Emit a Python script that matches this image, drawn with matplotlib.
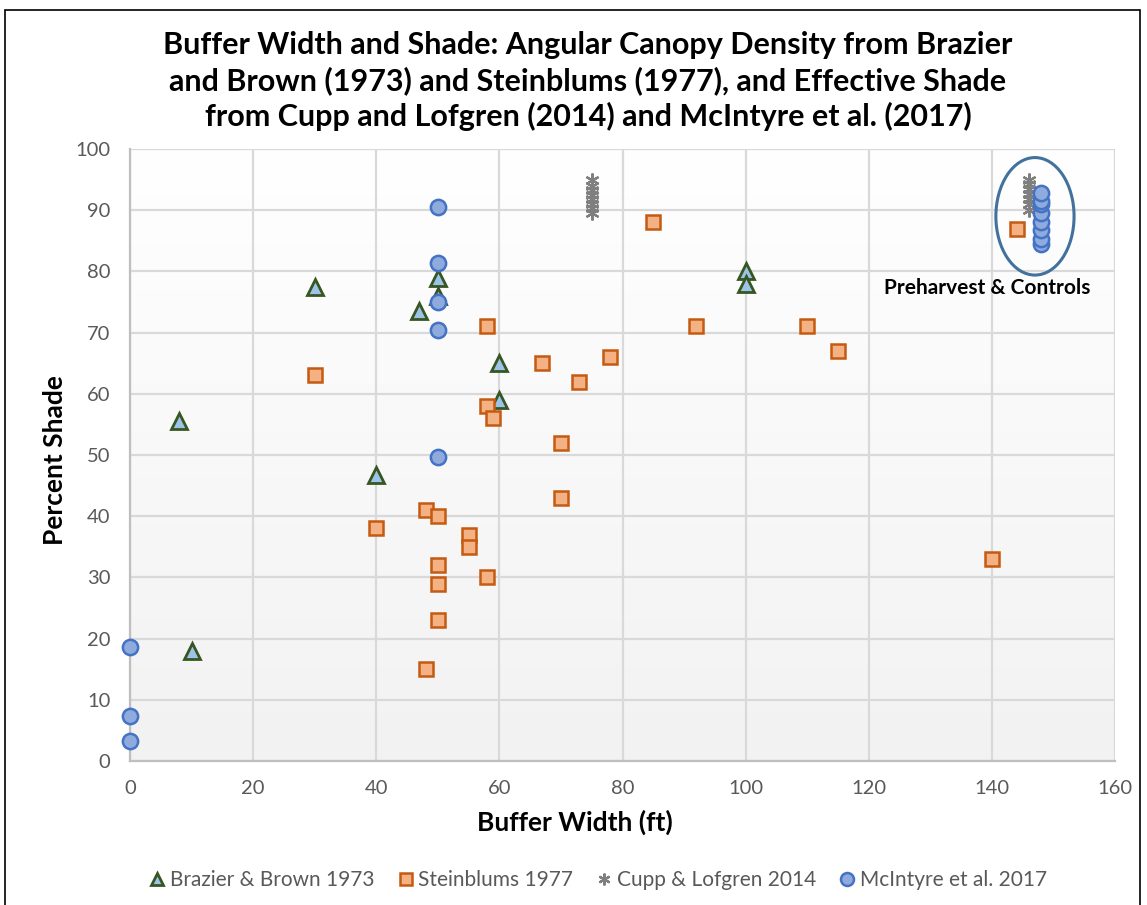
import numpy as np
import matplotlib
matplotlib.use("Agg")
import matplotlib.pyplot as plt
from matplotlib.patches import Ellipse, Rectangle

plt.rcParams['font.family'] = ['Lato', 'DejaVu Sans']

# Brazier & Brown 1973
bb_x = [8, 10, 30, 40, 47, 50, 50, 60, 60, 100, 100]
bb_y = [55.5, 18, 77.5, 46.8, 73.5, 79, 76, 65, 59, 80, 78]

# Steinblums 1977
st_x = [30, 40, 48, 48, 50, 50, 50, 50, 55, 55, 58, 58, 58, 59, 67, 70, 70, 73, 78, 85, 92, 110, 115, 140, 144]
st_y = [63, 38, 41, 15, 40, 32, 29, 23, 37, 35, 71, 58, 30, 56, 65, 52, 43, 62, 66, 88, 71, 71, 67, 33, 87]

# Cupp & Lofgren 2014
cl_x = [75] * 8 + [146] * 7
cl_y = [89.5, 90.3, 91, 91.8, 92.5, 93.3, 94, 95,
        90, 91, 91.8, 92.6, 93.4, 94.2, 95]

# McIntyre et al. 2017
mc_x = [0, 0, 0, 50, 50, 50, 50, 50] + [148] * 8
mc_y = [18.7, 7.3, 3.2, 90.6, 81.4, 75, 70.5, 49.7,
        84.5, 85.3, 86.8, 88, 89.5, 91, 91.5, 92.8]

fig = plt.figure(figsize=(11.47, 9.05), dpi=100)
ax = fig.add_axes([130 / 1147, 1 - 761 / 905, 985 / 1147, 612 / 905])

# gradient background
grad = np.linspace(0, 1, 256).reshape(-1, 1)
ax.imshow(grad, extent=[0, 160, 0, 100], aspect='auto', origin='upper',
          cmap=matplotlib.colors.LinearSegmentedColormap.from_list('g', ['#ffffff', '#f2f2f2']),
          zorder=0)

ax.set_xlim(0, 160)
ax.set_ylim(0, 100)
ax.set_xticks(np.arange(0, 161, 20))
ax.set_yticks(np.arange(0, 101, 10))
ax.grid(True, color='#d9d9d9', lw=1.6, zorder=1)
ax.set_axisbelow(True)
for s in ['top', 'right']:
    ax.spines[s].set_visible(False)
for s in ['left', 'bottom']:
    ax.spines[s].set_color('#bfbfbf')
    ax.spines[s].set_linewidth(1.6)
ax.tick_params(length=0, labelsize=14.5, colors='#595959')
ax.tick_params(axis='x', pad=14)
ax.tick_params(axis='y', pad=14)

ax.plot(bb_x, bb_y, ls='none', marker='^', ms=11, mfc='#9dc3e6', mec='#375623', mew=2,
        label='Brazier & Brown 1973', zorder=3, clip_on=False)
ax.plot(st_x, st_y, ls='none', marker='s', ms=10, mfc='#f4b183', mec='#c55a11', mew=1.8,
        label='Steinblums 1977', zorder=3, clip_on=False)
ax.plot(cl_x, cl_y, ls='none', marker=(6, 2, 0), ms=10, mec='#7f7f7f', mew=1.6,
        label='Cupp & Lofgren 2014', zorder=3, clip_on=False)
ax.plot(mc_x, mc_y, ls='none', marker='o', ms=11, mfc='#8faadc', mec='#4472c4', mew=1.8,
        label='McIntyre et al. 2017', zorder=4, clip_on=False)

ax.add_patch(Ellipse((147, 89), 12.7, 19.2, fill=False, ec='#41719c', lw=2.2, zorder=5))
ax.text(139.3, 77.3, 'Preharvest & Controls', ha='center', va='center',
        fontsize=15, fontweight='bold', color='black', zorder=5)

ax.set_xlabel('Buffer Width (ft)', fontsize=19, fontweight='bold')
ax.xaxis.set_label_coords((575 - 130) / 985, -(810 - 761) / 612)
ax.set_ylabel('Percent Shade', fontsize=19, fontweight='bold')
ax.yaxis.set_label_coords(-(130 - 67) / 985, (761 - 460) / 612)

fig.text(588 / 1147, 1 - 81 / 905,
         'Buffer Width and Shade: Angular Canopy Density from Brazier\n'
         'and Brown (1973) and Steinblums (1977), and Effective Shade\n'
         'from Cupp and Lofgren (2014) and McIntyre et al. (2017)',
         ha='center', va='center', fontsize=22, fontweight='bold', linespacing=1.28)

leg = fig.legend(loc='center', bbox_to_anchor=(597 / 1147, 1 - 880 / 905), ncol=4, frameon=False,
                 fontsize=15, handletextpad=0.1, columnspacing=1.0, handlelength=1.0,
                 markerscale=0.85)
for t in leg.get_texts():
    t.set_color('#595959')

# outer frame
fig.patches.append(Rectangle((5 / 1147, -0.01), 1135 / 1147, 1 - 10 / 905 + 0.01,
                             transform=fig.transFigure, fill=False, ec='black', lw=1.2))

fig.savefig('out.png', dpi=100)
